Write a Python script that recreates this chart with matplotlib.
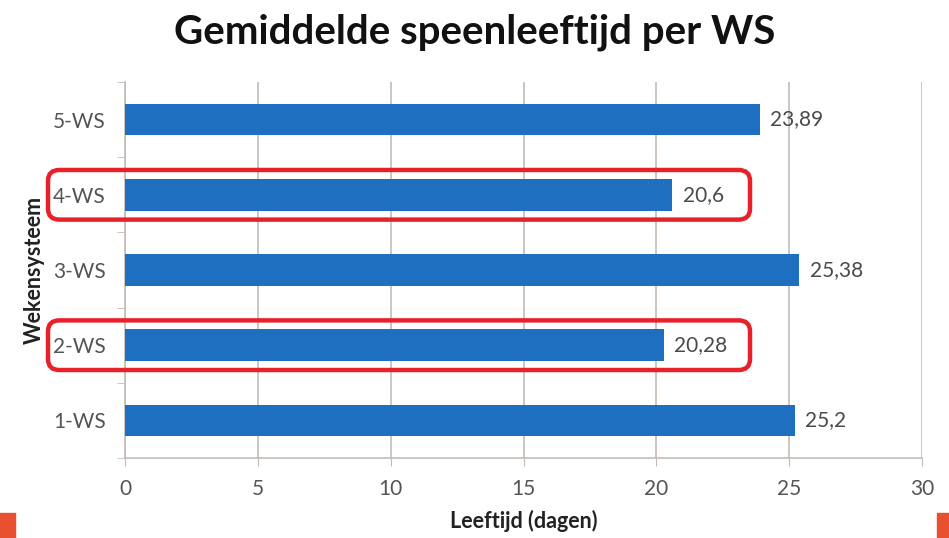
import matplotlib.pyplot as plt
from matplotlib.patches import FancyBboxPatch
from matplotlib.transforms import blended_transform_factory

categories = ['1-WS', '2-WS', '3-WS', '4-WS', '5-WS']
values = [25.2, 20.28, 25.38, 20.6, 23.89]
value_labels = ['25,2', '20,28', '25,38', '20,6', '23,89']
highlighted = ['2-WS', '4-WS']

plt.rcParams['font.family'] = ['Lato', 'DejaVu Sans']

fig = plt.figure(figsize=(9.49, 5.38), dpi=100)
ax = fig.add_axes([0.1317, 0.1487, 0.8399, 0.6989])

pos = list(range(len(categories)))
ax.barh(pos, values, height=0.42, color='#1F6FC0', zorder=3)

for p, v, lab in zip(pos, values, value_labels):
    ax.text(v + 0.4, p, lab, va='center', ha='left', fontsize=15, color='#4a4a4a')

ax.set_xlim(0, 30)
ax.set_ylim(-0.5, len(categories) - 0.5)
ax.set_xticks(range(0, 31, 5))
ax.set_yticks(pos)
ax.set_yticklabels(categories)
ax.set_yticks([p - 0.5 for p in pos] + [len(categories) - 0.5], minor=True)
ax.tick_params(axis='y', which='major', length=0, pad=14, labelsize=15, labelcolor='#555555')
ax.tick_params(axis='y', which='minor', length=6, color='#c4bbb6', direction='out')
ax.tick_params(axis='x', length=6, color='#c4bbb6', labelsize=15, labelcolor='#555555', pad=9)
ax.grid(axis='x', color='#c4bbb6', linewidth=1.2, zorder=0)
for s in ['top', 'right']:
    ax.spines[s].set_visible(False)
ax.spines['left'].set_color('#c4bbb6')
ax.spines['bottom'].set_color('#c4bbb6')
ax.spines['left'].set_linewidth(1.2)
ax.spines['bottom'].set_linewidth(1.2)

ax.set_xlabel('Leeftijd (dagen)', fontsize=15.5, fontweight='bold', color='#222222', labelpad=8)
ax.set_ylabel('Wekensysteem', fontsize=15.5, fontweight='bold', color='#222222', labelpad=6)
fig.text(0.5, 0.94, 'Gemiddelde speenleeftijd per WS', ha='center', va='center',
         fontsize=29, fontweight='bold', color='#111111')

# red highlight boxes around selected categories
trans = blended_transform_factory(fig.transFigure, ax.transData)
for cat in highlighted:
    p = categories.index(cat)
    box = FancyBboxPatch((48 / 949, p - 0.33), (750 - 48) / 949, 0.66,
                         boxstyle='round,pad=0,rounding_size=0.012',
                         transform=trans, fill=False, edgecolor='#E8202A',
                         linewidth=3.2, clip_on=False, zorder=5, mutation_aspect=12)
    fig.add_artist(box)

# orange corner markers
fig.add_artist(plt.Rectangle((0, 0), 15 / 949, 25 / 538, transform=fig.transFigure,
                             color='#E8502F'))
fig.add_artist(plt.Rectangle((937 / 949, 0), 12 / 949, 25 / 538, transform=fig.transFigure,
                             color='#E8502F'))

fig.savefig('out.png', dpi=100)
